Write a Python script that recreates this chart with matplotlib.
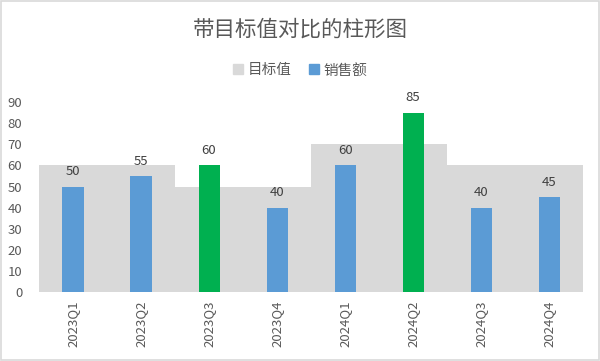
import matplotlib.pyplot as plt
from matplotlib.patches import Patch
import numpy as np

plt.rcParams['font.family'] = ['Noto Sans CJK SC', 'DejaVu Sans']

quarters = ['2023Q1', '2023Q2', '2023Q3', '2023Q4', '2024Q1', '2024Q2', '2024Q3', '2024Q4']
target = [60, 60, 50, 50, 70, 70, 60, 60]
sales = [50, 55, 60, 40, 60, 85, 40, 45]

grey = '#d9d9d9'
blue = '#5b9bd5'
green = '#00b050'
text_col = '#595959'

fig = plt.figure(figsize=(6.0, 3.61), dpi=100)
ax = fig.add_axes([0.065, 0.191, 0.907, 0.526])

x = np.arange(len(quarters))
ax.bar(x, target, width=1.0, color=grey, zorder=1)
# sales bars: green where the target is reached
colors = [green if s >= t else blue for s, t in zip(sales, target)]
ax.bar(x, sales, width=0.31, color=colors, zorder=2)

for xi, s in zip(x, sales):
    ax.annotate(str(s), (xi, s), xytext=(0, 6), textcoords='offset points',
                ha='center', va='bottom', fontsize=9.5, color='#404040')

ax.set_xlim(-0.5, len(quarters) - 0.5)
ax.set_ylim(0, 90)
ax.set_yticks(range(0, 91, 10))
ax.set_xticks(x)
ax.set_xticklabels(quarters, rotation=90, fontsize=9.5, color=text_col)
ax.tick_params(axis='y', labelsize=9.5, labelcolor=text_col, length=0, pad=12)
ax.tick_params(axis='x', length=0, pad=6)
for sp in ax.spines.values():
    sp.set_visible(False)

fig.text(0.5, 0.918, '带目标值对比的柱形图', ha='center', va='center',
         fontsize=15.5, color=text_col)
handles = [Patch(color=grey, label='目标值'), Patch(color=blue, label='销售额')]
fig.legend(handles=handles, loc='center', bbox_to_anchor=(0.5, 0.805), ncol=2, frameon=False,
           fontsize=10.5, handlelength=0.7, handleheight=0.7, handletextpad=0.3,
           columnspacing=1.2, labelcolor=text_col)

fig.patches.append(plt.Rectangle((0.002, 0.003), 0.996, 0.994, transform=fig.transFigure,
                                 fill=False, edgecolor='#d9d9d9', linewidth=1.2))

fig.savefig('out.png', dpi=100)
